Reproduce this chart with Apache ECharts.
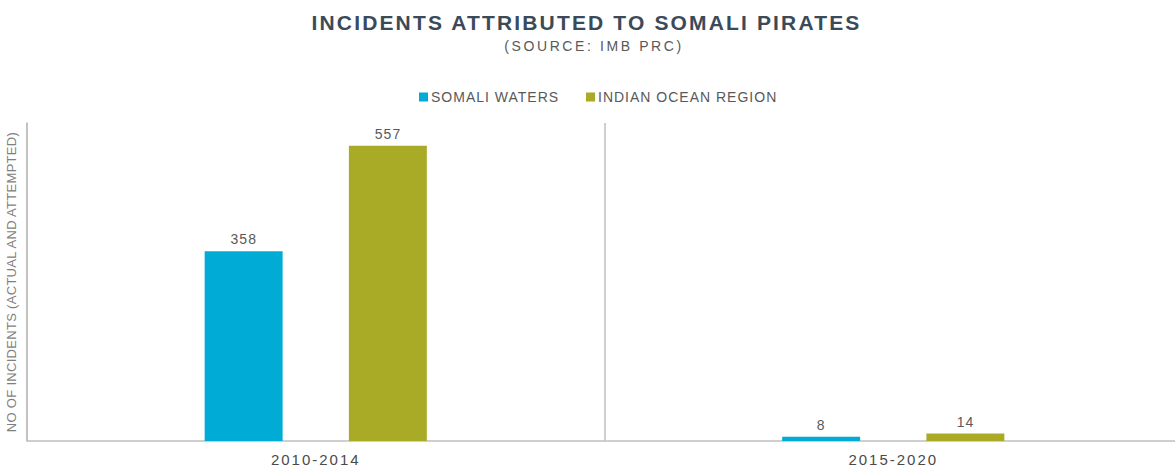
<!DOCTYPE html>
<html>
<head>
<meta charset="utf-8">
<script src="https://cdn.jsdelivr.net/npm/echarts@6/dist/echarts.min.js"></script>
<style>html,body{margin:0;padding:0;background:#fff;}#c{width:1175px;height:468px;}</style>
</head>
<body>
<div id="c"></div>
<script>
const categories = ['2010-2014', '2015-2020'];
const somaliWaters = [358, 8];
const indianOcean = [557, 14];
const seriesNames = ['SOMALI WATERS', 'INDIAN OCEAN REGION'];
const titleText = 'INCIDENTS ATTRIBUTED TO SOMALI PIRATES';
const subtitleText = '(SOURCE: IMB PRC)';
const yAxisName = 'NO OF INCIDENTS (ACTUAL AND ATTEMPTED)';

const FONT = 'Liberation Sans, Arial, sans-serif';
const chart = echarts.init(document.getElementById('c'), null, {renderer: 'svg'});
const labelStyle = {show: true, position: 'top', distance: 5, color: '#595959', fontSize: 14, fontFamily: FONT};
const legendText = {fontSize: 14, color: '#595959', fontFamily: FONT, padding: [0, 0, 0, -2]};
chart.setOption({
  animation: false,
  title: [
    {text: titleText, left: 'center', top: 7,
     textStyle: {fontSize: 21, fontWeight: 'bold', color: '#3b4a58', fontFamily: FONT}},
    {text: subtitleText, left: 'center', top: 34,
     textStyle: {fontSize: 14, fontWeight: 'normal', color: '#595959', fontFamily: FONT}}
  ],
  legend: [
    {data: [seriesNames[0]], left: 414, top: 85, itemWidth: 9, itemHeight: 9, icon: 'rect', textStyle: legendText},
    {data: [seriesNames[1]], left: 581, top: 85, itemWidth: 9, itemHeight: 9, icon: 'rect', textStyle: legendText}
  ],
  grid: {left: 27, width: 1155, top: 123, bottom: 27, outerBoundsMode: 'none', containLabel: false},
  xAxis: {
    type: 'category', data: categories,
    axisLine: {lineStyle: {color: '#bfbfbf', width: 1.5}},
    axisTick: {show: false},
    splitLine: {show: true, lineStyle: {color: '#bfbfbf', width: 1.5}},
    axisLabel: {color: '#4a4a4a', fontSize: 15, margin: 11, fontFamily: FONT}
  },
  yAxis: {
    type: 'value', min: 0, max: 600, interval: 100,
    name: yAxisName,
    nameLocation: 'middle', nameGap: 9,
    nameTextStyle: {fontSize: 13, color: '#7f7f7f', fontFamily: FONT},
    axisLine: {show: true, lineStyle: {color: '#bfbfbf', width: 1.5}},
    axisTick: {show: false},
    axisLabel: {show: false},
    splitLine: {show: false}
  },
  series: [
    {name: seriesNames[0], type: 'bar', data: somaliWaters, barWidth: '13.5%', barGap: '85%',
     itemStyle: {color: '#00acd6'}, label: labelStyle},
    {name: seriesNames[1], type: 'bar', data: indianOcean, barWidth: '13.5%', barGap: '85%',
     itemStyle: {color: '#a9ab27'}, label: labelStyle}
  ]
});

// letter spacing (not supported by the text engine) applied to the rendered SVG text
function space() {
  const svg = document.querySelector('#c svg');
  if (!svg) return;
  const base = svg.getBoundingClientRect();
  const rules = [
    {match: t => t === titleText, sp: 2.15, center: 586.5},
    {match: t => t === subtitleText, sp: 2.6, center: 594},
    {match: t => seriesNames.indexOf(t) >= 0, sp: 1, keepLeft: true},
    {match: t => categories.indexOf(t) >= 0, sp: 2, keepCenter: true},
    {match: t => /^\d+$/.test(t), sp: 1, keepCenter: true},
    {match: t => t === yAxisName, sp: 0.3}
  ];
  svg.querySelectorAll('text').forEach(el => {
    const t = el.textContent;
    const r = rules.find(r => r.match(t));
    if (!r) return;
    const b0 = el.getBoundingClientRect();
    el.setAttribute('letter-spacing', r.sp + 'px');
    el.style.letterSpacing = r.sp + 'px';
    const b1 = el.getBoundingClientRect();
    let dx = 0;
    if (r.center !== undefined) dx = r.center - ((b1.left + b1.right) / 2 - base.left);
    else if (r.keepCenter) dx = (b0.left + b0.right) / 2 - (b1.left + b1.right) / 2;
    else if (r.keepLeft) dx = b0.left - b1.left;
    if (dx) {
      const x = parseFloat(el.getAttribute('x') || '0');
      el.setAttribute('x', x + dx);
    }
  });
}
chart.getZr().refreshImmediately();
space();
</script>
</body>
</html>
